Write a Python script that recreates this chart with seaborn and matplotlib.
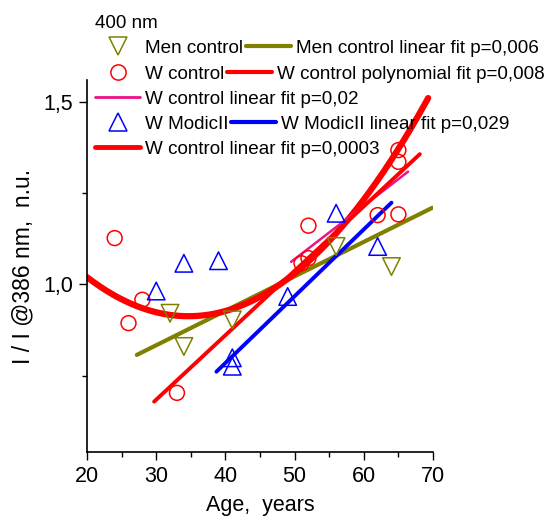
import numpy as np
import matplotlib
matplotlib.use("Agg")
import matplotlib.pyplot as plt
from matplotlib.lines import Line2D
from matplotlib.ticker import MultipleLocator
import seaborn as sns

# Datos (400 nm)
edad_men = [32, 34, 41, 56, 64]
val_men = [0.921, 0.830, 0.903, 1.104, 1.049]

edad_wc = [24, 26, 28, 33, 51, 52, 52, 62, 65, 65, 65]
val_wc = [1.127, 0.894, 0.958, 0.703, 1.058, 1.161, 1.072, 1.190, 1.192, 1.336, 1.368]

edad_mod = [30, 34, 39, 41, 41, 49, 56, 62]
val_mod = [0.982, 1.058, 1.065, 0.799, 0.776, 0.967, 1.195, 1.104]

# Rectas de ajuste: extremos (x, y)
fit_men_x = [27.2, 69.9]
fit_men_y = [0.807, 1.210]
fit_wc002_x = [49.5, 66.4]
fit_wc002_y = [1.062, 1.309]
fit_mod_x = [38.7, 64.0]
fit_mod_y = [0.761, 1.224]
fit_wc0003_x = [29.7, 68.1]
fit_wc0003_y = [0.679, 1.357]

# Ajuste polinómico (cuadrático): y = a*(x - x0)^2 + c
poly_a, poly_x0, poly_c = 0.000498, 34.66, 0.913
poly_rango = [20, 69.3]

yticks = [1.0, 1.5]
yticklabels = ["1,0", "1,5"]
xticks = [20, 30, 40, 50, 60, 70]

OLIVA = "#808000"
ROJO = "#ff0000"
AZUL = "#0000ff"
MAGENTA = "#ee1188"

sns.set_style("ticks")
plt.rcParams["font.family"] = ["Liberation Sans", "DejaVu Sans"]
plt.rcParams["text.color"] = "black"
plt.rcParams["axes.labelcolor"] = "black"
plt.rcParams["xtick.color"] = "black"
plt.rcParams["ytick.color"] = "black"

fig = plt.figure(figsize=(5.52, 5.18), dpi=100)
ax = fig.add_axes([0.1576, 0.1274, 0.6268, 0.7181])

# Líneas de ajuste
sns.lineplot(x=fit_men_x, y=fit_men_y, color=OLIVA, lw=3, ax=ax)
xp = np.linspace(poly_rango[0], poly_rango[1], 200)
sns.lineplot(x=xp, y=poly_a * (xp - poly_x0) ** 2 + poly_c, color=ROJO, lw=4.5, ax=ax, sort=False)
sns.lineplot(x=fit_wc002_x, y=fit_wc002_y, color=MAGENTA, lw=1.8, ax=ax)
sns.lineplot(x=fit_mod_x, y=fit_mod_y, color=AZUL, lw=2.8, ax=ax)
sns.lineplot(x=fit_wc0003_x, y=fit_wc0003_y, color=ROJO, lw=2.8, ax=ax)

# Puntos
sns.scatterplot(x=edad_men, y=val_men, marker="v", s=160, color=OLIVA,
                facecolor="none", edgecolor=OLIVA, linewidth=1.1, ax=ax, zorder=3)
sns.scatterplot(x=edad_wc, y=val_wc, marker="o", s=115, color=ROJO,
                facecolor="none", edgecolor=ROJO, linewidth=1.1, ax=ax, zorder=3)
sns.scatterplot(x=edad_mod, y=val_mod, marker="^", s=160, color=AZUL,
                facecolor="none", edgecolor=AZUL, linewidth=1.1, ax=ax, zorder=3)

ax.set_xlim(20, 70)
ax.set_ylim(0.541, 1.560)
ax.set_xticks(xticks)
ax.set_yticks(yticks)
ax.set_yticklabels(yticklabels)
ax.xaxis.set_minor_locator(MultipleLocator(5))
ax.yaxis.set_minor_locator(MultipleLocator(0.25))
ax.tick_params(which="major", length=6, width=1, labelsize=15.5, direction="out", pad=4)
ax.tick_params(which="minor", length=3.5, width=1, direction="out")
sns.despine(ax=ax)
for s in ["left", "bottom"]:
    ax.spines[s].set_color("black")
    ax.spines[s].set_linewidth(1.2)
ax.set_xlabel("Age,  years", fontsize=15.5, labelpad=6)
ax.set_ylabel("I / I @386 nm,  n.u.", fontsize=16.5, labelpad=6)

# Leyenda estilo Origin, fila por fila
fig.text(95 / 552, 1 - 24 / 518, "400 nm", fontsize=13.6, va="center")

def marca(m, c):
    return Line2D([], [], ls="none", marker=m, markersize=12.5 if m != "o" else 11,
                  markerfacecolor="none", markeredgecolor=c, markeredgewidth=1.1)

def linea(c, w):
    return Line2D([], [], color=c, lw=w)

filas = [
    ([marca("v", OLIVA), linea(OLIVA, 3)], ["Men control", "Men control linear fit p=0,006"], 48),
    ([marca("o", ROJO), linea(ROJO, 3)], ["W control", "W control polynomial fit p=0,008"], 74),
    ([linea(MAGENTA, 2)], ["W control linear fit p=0,02"], 99),
    ([marca("^", AZUL), linea(AZUL, 3)], ["W ModicII", "W ModicII linear fit p=0,029"], 124),
    ([linea(ROJO, 3.5)], ["W control linear fit p=0,0003"], 149),
]
for handles, labels, ypix in filas:
    fig.legend(handles, labels, loc="center left",
               bbox_to_anchor=(95 / 552, 1 - ypix / 518), bbox_transform=fig.transFigure,
               ncol=len(handles), frameon=False, borderpad=0, borderaxespad=0,
               handlelength=2.4, handletextpad=0.26, columnspacing=0.12, fontsize=13.6)

fig.savefig("out.png", dpi=100)
